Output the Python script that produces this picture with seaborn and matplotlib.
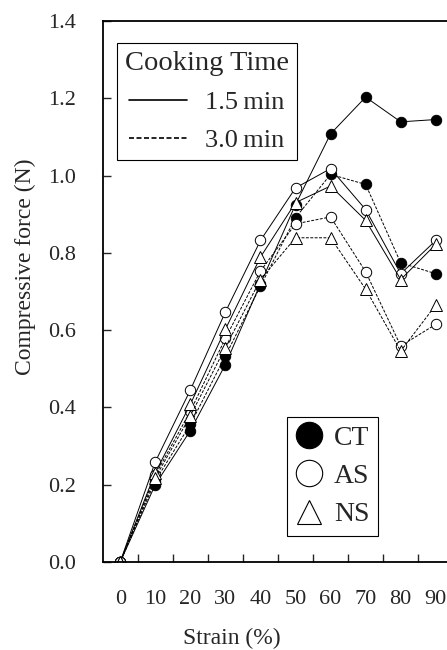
import pandas as pd
import matplotlib.pyplot as plt
import seaborn as sns
from matplotlib.lines import Line2D

strain = [0, 10, 20, 30, 40, 50, 60, 70, 80, 90]

ct_15 = [0.0, 0.200, 0.340, 0.511, 0.720, 0.925, 1.108, 1.203, 1.139, 1.145]
ct_30 = [0.0, 0.210, 0.356, 0.533, 0.714, 0.891, 1.003, 0.977, 0.774, 0.746]
as_15 = [0.0, 0.259, 0.445, 0.647, 0.832, 0.968, 1.018, 0.912, 0.746, 0.832]
as_30 = [0.0, 0.225, 0.390, 0.579, 0.753, 0.875, 0.893, 0.751, 0.559, 0.615]
ns_15 = [0.0, 0.231, 0.408, 0.602, 0.789, 0.930, 0.973, 0.884, 0.731, 0.822]
ns_30 = [0.0, 0.218, 0.378, 0.555, 0.731, 0.839, 0.839, 0.706, 0.546, 0.665]

sns.set_style("ticks")
plt.rcParams['font.family'] = ['Liberation Serif', 'DejaVu Serif']

fig = plt.figure(figsize=(4.47, 6.5), dpi=100)
ax = fig.add_axes([0.2297, 0.1354, 0.7703, 0.8323])

series = [
    ('CT', '1.5', ct_15, 'o', 'black'),
    ('CT', '3.0', ct_30, 'o', 'black'),
    ('AS', '1.5', as_15, 'o', 'white'),
    ('AS', '3.0', as_30, 'o', 'white'),
    ('NS', '1.5', ns_15, '^', 'white'),
    ('NS', '3.0', ns_30, '^', 'white'),
]

for starch, time, vals, mk, face in series:
    df = pd.DataFrame({'strain': strain, 'force': vals})
    ls = '-' if time == '1.5' else (0, (3, 1.5))
    sns.lineplot(data=df, x='strain', y='force', ax=ax, color='black',
                 linewidth=0.7, linestyle=ls, marker=mk,
                 markersize=7.5 if mk == 'o' else 8,
                 markerfacecolor=face, markeredgecolor='black',
                 markeredgewidth=0.7)

ax.set_xlim(-5, 93.2)
ax.set_ylim(0, 1.4)
ax.set_xticks(strain)
ax.set_xticks([5, 15, 25, 35, 45, 55, 65, 75, 85], minor=True)
ax.set_yticks([0.0, 0.2, 0.4, 0.6, 0.8, 1.0, 1.2, 1.4])
ax.set_yticklabels([f'{v:.1f}' for v in ax.get_yticks()])
ax.tick_params(axis='x', which='major', length=0, pad=20, labelsize=16)
ax.tick_params(axis='x', which='minor', direction='in', length=6, width=1)
ax.tick_params(axis='y', which='major', direction='in', length=6, width=1,
               pad=19, labelsize=16)
for side in ['left', 'bottom', 'top']:
    ax.spines[side].set_linewidth(1.3)
    ax.spines[side].set_color('black')
ax.spines['right'].set_visible(False)

ax.set_xlabel('Strain (%)', fontsize=17)
ax.xaxis.set_label_coords(0.3755, -0.122)
ax.set_ylabel('Compressive force (N)', fontsize=17)
ax.yaxis.set_label_coords(-0.195, 0.545)

time_handles = [Line2D([], [], color='black', linewidth=1.2, linestyle='-'),
                Line2D([], [], color='black', linewidth=1.2, linestyle=(0, (3, 1.5)))]
leg1 = ax.legend(time_handles, ['1.5\u2009min', '3.0\u2009min'], title='Cooking Time',
                 loc='upper left', bbox_to_anchor=(0.0415, 0.959), borderaxespad=0,
                 fontsize=19, title_fontsize=20.5, handlelength=2.2, handletextpad=0.7,
                 labelspacing=0.55, borderpad=0.3, fancybox=False, framealpha=1,
                 edgecolor='black')
leg1.get_frame().set_linewidth(0.8)
ax.add_artist(leg1)

starch_handles = [Line2D([], [], linestyle='none', marker='o', markersize=19,
                         markerfacecolor='black', markeredgecolor='black', markeredgewidth=0.8),
                  Line2D([], [], linestyle='none', marker='o', markersize=19,
                         markerfacecolor='white', markeredgecolor='black', markeredgewidth=0.8),
                  Line2D([], [], linestyle='none', marker='^', markersize=17,
                         markerfacecolor='white', markeredgecolor='black', markeredgewidth=0.8)]
leg2 = ax.legend(starch_handles, ['CT', 'AS', 'NS'], loc='upper left',
                 bbox_to_anchor=(0.535, 0.268), borderaxespad=0, fontsize=20,
                 handlelength=1.0, handletextpad=0.4, labelspacing=0.46,
                 borderpad=0.3, fancybox=False, framealpha=1, edgecolor='black')
leg2.get_frame().set_linewidth(0.8)

fig.savefig('out.png', dpi=100)
